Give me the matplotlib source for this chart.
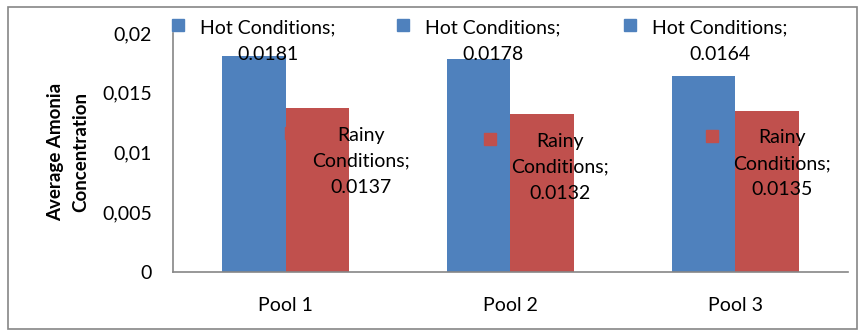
import matplotlib.pyplot as plt
import matplotlib.patches as patches
import numpy as np
from matplotlib.transforms import offset_copy, blended_transform_factory


# --- Datos ---
POOLS = ['Pool 1', 'Pool 2', 'Pool 3']
HOT = [0.0181, 0.0178, 0.0164]
RAINY = [0.0137, 0.0132, 0.0135]
SERIES = ['Hot Conditions', 'Rainy Conditions']
Y_TICKS = [0, 0.005, 0.01, 0.015, 0.02]
Y_TICK_LABELS = ['0', '0,005', '0,01', '0,015', '0,02']

# --- Estilo ---
BLUE = '#4F81BD'
RED = '#C0504D'
GREY = '#868686'
BAR_W = 0.284
FONT = 'Lato'
FS = 14
# desplazamiento horizontal de las etiquetas (px)
HOT_DX = [14, 14, 16]
RAINY_DX = [44, 18, 15]

plt.rcParams['font.family'] = [FONT, 'DejaVu Sans']

fig = plt.figure(figsize=(8.6, 3.31), dpi=100)
ax = fig.add_axes([173 / 860, 59 / 331, 675 / 860, 239 / 331])

x = np.arange(len(POOLS))
ax.bar(x - BAR_W / 2, HOT, BAR_W, color=BLUE, zorder=2)
ax.bar(x + BAR_W / 2, RAINY, BAR_W, color=RED, zorder=2)

ax.set_xlim(-0.5, len(POOLS) - 0.5)
ax.set_ylim(0, 0.02)
ax.set_yticks(Y_TICKS)
ax.set_yticklabels(Y_TICK_LABELS)
ax.set_xticks(x)
ax.set_xticklabels(POOLS)
ax.tick_params(axis='both', length=0, labelsize=FS)
ax.tick_params(axis='y', pad=15)
ax.tick_params(axis='x', pad=18)

for side in ['top', 'right']:
    ax.spines[side].set_visible(False)
for side in ['left', 'bottom']:
    ax.spines[side].set_color(GREY)
    ax.spines[side].set_linewidth(1.2)

# --- Etiquetas de datos (estilo Excel) ---
top_tr = blended_transform_factory(ax.transData, ax.transAxes)
for i, val in enumerate(HOT):
    cx = x[i] - BAR_W / 2
    tr = offset_copy(top_tr, fig=fig, x=HOT_DX[i], y=-8, units='dots')
    ax.text(cx, 1.0, f"{SERIES[0]};\n{val}", transform=tr,
            ha='center', va='center', multialignment='center',
            fontsize=FS, linespacing=1.7, zorder=5, clip_on=False)
    tr_sq = offset_copy(top_tr, fig=fig, x=HOT_DX[i] - 90, y=8, units='dots')
    ax.plot([cx], [1.0], marker='s', markersize=8.6, color=BLUE,
            transform=tr_sq, clip_on=False, zorder=5)

for i, val in enumerate(RAINY):
    cx = x[i] + BAR_W / 2
    tr = offset_copy(ax.transData, fig=fig, x=RAINY_DX[i], y=-53, units='dots')
    ax.text(cx, val, f"Rainy\nConditions;\n{val}", transform=tr,
            ha='center', va='center', multialignment='center',
            fontsize=FS, linespacing=1.65, zorder=5)
    tr_sq = offset_copy(ax.transData, fig=fig, x=RAINY_DX[i] - 70, y=-25,
                        units='dots')
    ax.plot([cx], [val], marker='s', markersize=8.6, color=RED,
            transform=tr_sq, zorder=5)

fig.text(68 / 860, 1 - 152 / 331, "Average Amonia\nConcentration",
         rotation=90, ha='center', va='center', multialignment='center',
         fontsize=13.5, fontweight='bold', linespacing=1.55)

# marco del gráfico
fig.patches.append(patches.Rectangle(
    (8 / 860, 2 / 331), 849 / 860, 322 / 331, transform=fig.transFigure,
    fill=False, edgecolor=GREY, linewidth=1.2))

fig.savefig('out.png', dpi=100)
